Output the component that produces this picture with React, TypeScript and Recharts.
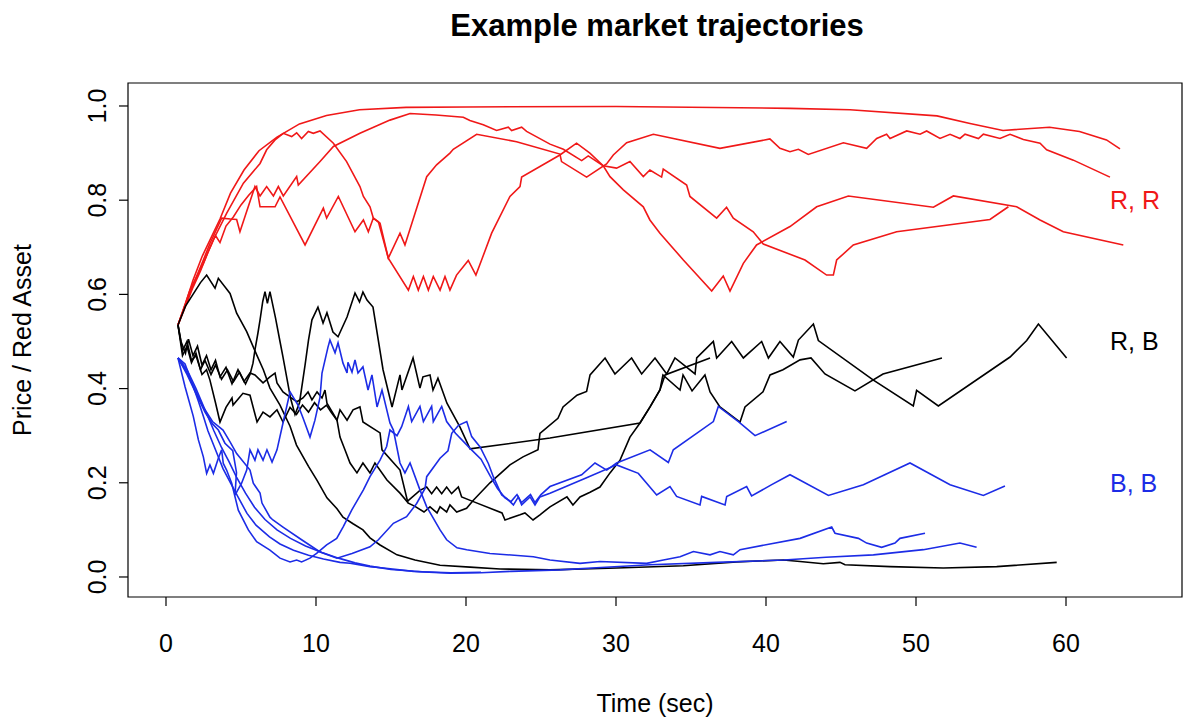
import React from 'react';
import { LineChart, Line, XAxis, YAxis, ReferenceArea, ReferenceDot } from 'recharts';

type Pt = [number, number];

const RED = '#f01818';
const BLUE = '#1c2ce6';
const BLACK = '#000000';
const FONT = '"Liberation Sans", Arial, Helvetica, sans-serif';

// ---- R, R trajectories (time sec, price) ----
const redA: Pt[] = [[0.8,0.535],[1.3,0.58],[1.8,0.63],[2.4,0.68],[3.0,0.72],[3.6,0.76],[4.3,0.815],[5.2,0.864],[6.2,0.905],[7.4,0.934],[8.9,0.962],[10.7,0.98],[12.9,0.992],[16.0,0.997],[20,0.998],[30,0.999],[41.6,0.995],[45.6,0.992],[51.4,0.979],[53.6,0.963],[55.8,0.948],[58.9,0.955],[60.9,0.946],[62.7,0.928],[63.6,0.909]];
const redB: Pt[] = [[0.8,0.535],[1.16,0.567],[1.8,0.62],[2.49,0.673],[2.93,0.708],[3.71,0.762],[4.3,0.76],[4.71,0.759],[4.93,0.733],[5.93,0.829],[6.27,0.809],[6.71,0.829],[7.16,0.809],[7.49,0.829],[7.82,0.809],[8.71,0.85],[8.82,0.832],[10.27,0.882],[11.16,0.914],[12.93,0.942],[14.93,0.97],[16.27,0.984],[18.0,0.981],[19.82,0.976],[20.26,0.969],[21.15,0.96],[22.04,0.948],[22.82,0.955],[23.04,0.948],[23.71,0.955],[24.04,0.946],[25.6,0.919],[26.49,0.908],[27.71,0.884],[28.15,0.894],[29.15,0.873],[29.6,0.85],[30.49,0.822],[31.82,0.786],[32.26,0.758],[32.93,0.73],[34.49,0.673],[36.38,0.607],[37.15,0.639],[37.6,0.607],[38.49,0.666],[39.37,0.705],[41.6,0.744],[43.38,0.786],[45.49,0.809],[51.16,0.785],[52.49,0.809],[56.71,0.786],[58.27,0.758],[59.82,0.733],[63.82,0.705]];
const redC: Pt[] = [[0.8,0.535],[1.6,0.609],[2.49,0.666],[3.16,0.716],[4.04,0.772],[5.16,0.836],[6.27,0.878],[6.71,0.907],[7.27,0.928],[7.82,0.942],[8.38,0.935],[8.71,0.943],[9.04,0.931],[9.49,0.946],[9.82,0.942],[10.27,0.947],[11.16,0.921],[12.04,0.882],[12.93,0.829],[13.16,0.808],[13.6,0.786],[13.82,0.762],[14.16,0.754],[14.82,0.677],[15.6,0.73],[15.93,0.705],[17.38,0.85],[18.04,0.875],[18.93,0.9],[19.15,0.908],[20.71,0.94],[23.37,0.924],[26.26,0.898],[26.37,0.882],[28.04,0.849],[29.37,0.877],[29.82,0.896],[30.71,0.922],[32.49,0.94],[36.93,0.91],[40.26,0.93],[40.93,0.91],[41.6,0.903],[42.16,0.908],[42.82,0.897],[45.16,0.922],[46.71,0.91],[47.38,0.931],[48.04,0.94],[48.27,0.931],[49.38,0.947],[50.27,0.94],[50.71,0.947],[51.6,0.931],[52.27,0.94],[52.93,0.931],[53.27,0.94],[54.16,0.931],[54.49,0.94],[55.6,0.931],[56.27,0.94],[57.16,0.929],[58.27,0.921],[58.71,0.907],[60.49,0.885],[62.93,0.849]];
const redD: Pt[] = [[0.8,0.535],[1.3,0.575],[1.8,0.615],[2.3,0.65],[2.8,0.69],[3.3,0.725],[3.6,0.71],[4.0,0.745],[4.5,0.765],[5.0,0.79],[5.5,0.81],[6.04,0.829],[6.27,0.786],[7.27,0.786],[7.6,0.807],[9.27,0.705],[10.49,0.783],[10.71,0.762],[11.49,0.808],[12.6,0.733],[13.16,0.758],[13.49,0.733],[13.82,0.762],[14.27,0.751],[14.82,0.677],[16.16,0.609],[16.49,0.638],[16.82,0.609],[17.16,0.638],[17.49,0.609],[17.82,0.638],[18.27,0.609],[18.6,0.638],[18.93,0.609],[19.37,0.641],[20.15,0.672],[20.66,0.641],[21.04,0.673],[21.71,0.73],[22.93,0.808],[23.6,0.829],[23.71,0.849],[26.26,0.896],[27.37,0.921],[28.26,0.9],[29.15,0.873],[30.04,0.868],[30.93,0.882],[31.82,0.85],[32.26,0.864],[33.04,0.849],[33.15,0.866],[34.71,0.832],[34.93,0.808],[36.71,0.762],[37.37,0.785],[37.82,0.762],[39.15,0.733],[39.82,0.707],[42.6,0.673],[44.04,0.641],[44.49,0.641],[44.71,0.673],[45.82,0.705],[48.71,0.733],[54.93,0.759],[56.16,0.786]];

// ---- R, B trajectories ----
const blackA: Pt[] = [[0.8,0.535],[1.1,0.48],[1.4,0.5],[1.7,0.46],[2.0,0.47],[2.4,0.43],[2.7,0.44],[2.93,0.418],[3.3,0.37],[3.6,0.329],[4.0,0.36],[4.4,0.38],[4.47,0.365],[5.13,0.39],[5.6,0.386],[6.07,0.329],[6.47,0.35],[6.93,0.34],[7.4,0.355],[7.8,0.329],[8.27,0.36],[8.7,0.345],[9.1,0.365],[9.5,0.35],[9.9,0.37],[10.3,0.355],[10.7,0.365],[11.0,0.35],[11.4,0.333],[11.6,0.355],[12.07,0.333],[12.47,0.355],[12.93,0.361],[13.13,0.329],[14.27,0.306],[14.4,0.27],[15.6,0.227],[16.13,0.157],[16.6,0.15],[17.2,0.138],[17.6,0.149],[18.07,0.136],[18.27,0.149],[18.71,0.138],[18.93,0.153],[19.38,0.138],[20.04,0.146],[20.49,0.163],[21.6,0.2],[22.93,0.238],[23.8,0.255],[24.8,0.27],[24.93,0.305],[26.13,0.337],[26.47,0.361],[27.4,0.386],[28.04,0.394],[28.27,0.429],[29.27,0.465],[29.93,0.431],[31.04,0.465],[31.71,0.431],[32.6,0.465],[33.38,0.431],[33.93,0.465],[35.27,0.431],[35.38,0.465],[36.49,0.5],[36.71,0.465],[37.71,0.5],[38.49,0.465],[39.71,0.5],[40.16,0.465],[40.93,0.5],[41.82,0.467],[42.16,0.503],[43.16,0.537],[43.49,0.502],[47.16,0.418],[49.82,0.363],[50.04,0.396],[51.49,0.363],[56.27,0.467],[57.38,0.502],[58.16,0.537],[60.04,0.465]];
const blackB: Pt[] = [[0.8,0.535],[1.0,0.5],[1.3,0.475],[1.5,0.505],[1.8,0.47],[2.1,0.49],[2.4,0.45],[2.7,0.47],[3.0,0.44],[3.3,0.46],[3.6,0.425],[4.0,0.445],[4.4,0.41],[4.8,0.44],[5.2,0.415],[5.6,0.433],[5.93,0.429],[6.47,0.412],[6.93,0.425],[7.27,0.433],[7.4,0.412],[7.8,0.393],[8.27,0.382],[8.73,0.372],[9.13,0.38],[9.47,0.393],[9.73,0.376],[10.07,0.393],[10.4,0.38],[10.6,0.397],[10.73,0.369],[11.4,0.333],[11.6,0.297],[11.93,0.27],[12.27,0.242],[12.73,0.221],[13.13,0.242],[13.6,0.221],[13.93,0.242],[14.73,0.206],[15.6,0.178],[16.07,0.16],[16.93,0.184],[17.38,0.191],[17.71,0.177],[18.04,0.191],[18.38,0.177],[18.71,0.191],[19.04,0.177],[19.49,0.191],[19.71,0.17],[20.49,0.16],[22.4,0.136],[22.6,0.121],[23.6,0.132],[23.93,0.136],[24.47,0.121],[24.93,0.132],[25.6,0.149],[26.73,0.17],[27.13,0.153],[27.6,0.17],[28.27,0.18],[28.93,0.191],[29.6,0.221],[30.27,0.248],[30.93,0.297],[31.6,0.327],[32.27,0.361],[32.93,0.397],[33.13,0.429],[34.27,0.397],[34.47,0.429],[35.07,0.395],[35.93,0.429],[36.27,0.393],[36.93,0.361],[38.27,0.329],[38.6,0.361],[39.8,0.393],[40.27,0.429],[41.13,0.44],[42.27,0.461],[43.0,0.465],[43.93,0.431],[45.93,0.395],[47.8,0.431],[51.73,0.465]];
const blackC: Pt[] = [[0.8,0.535],[1.3,0.575],[1.8,0.6],[2.3,0.625],[2.71,0.641],[3.27,0.613],[3.49,0.634],[4.27,0.602],[4.71,0.56],[5.38,0.521],[6.04,0.472],[6.49,0.44],[6.93,0.401],[7.6,0.365],[8.27,0.32],[8.7,0.28],[9.5,0.235],[10.07,0.205],[10.73,0.168],[11.4,0.145],[11.8,0.127],[12.47,0.113],[13.13,0.1],[13.6,0.083],[14.27,0.068],[15.4,0.047],[16.6,0.036],[18.27,0.025],[20.27,0.021],[22.27,0.017],[25.6,0.015],[30.04,0.019],[34.49,0.024],[38.04,0.032],[41.16,0.036],[42.27,0.033],[43.82,0.028],[44.93,0.031],[45.27,0.026],[48.27,0.022],[51.82,0.019],[55.38,0.022],[59.38,0.031]];
const blackD: Pt[] = [[0.8,0.535],[1.1,0.47],[1.4,0.49],[1.7,0.455],[2.0,0.475],[2.3,0.44],[2.6,0.46],[3.0,0.43],[3.3,0.45],[3.7,0.42],[4.1,0.44],[4.5,0.415],[4.9,0.435],[5.3,0.41],[5.6,0.43],[5.8,0.454],[5.93,0.482],[6.13,0.518],[6.27,0.546],[6.45,0.585],[6.6,0.606],[6.76,0.581],[6.93,0.606],[7.3,0.55],[7.6,0.5],[7.8,0.467],[8.07,0.42],[8.3,0.38],[8.6,0.345],[8.9,0.37],[9.27,0.45],[9.5,0.503],[9.73,0.546],[10.13,0.573],[10.47,0.539],[10.73,0.561],[11.13,0.52],[11.47,0.51],[12.07,0.552],[12.6,0.603],[12.9,0.584],[13.13,0.605],[13.4,0.588],[13.8,0.573],[14.47,0.44],[15.07,0.361],[15.6,0.429],[15.73,0.397],[16.47,0.465],[16.93,0.401],[17.13,0.425],[17.6,0.429],[17.8,0.397],[18.13,0.422],[18.73,0.369],[19.6,0.318],[20.27,0.272],[25.6,0.295],[31.6,0.327],[32.27,0.361],[32.93,0.397],[33.27,0.429],[36.27,0.465]];

// ---- B, B trajectories ----
const blueA: Pt[] = [[0.8,0.465],[1.27,0.404],[1.82,0.341],[2.16,0.291],[2.49,0.255],[2.71,0.22],[2.93,0.238],[3.16,0.22],[3.49,0.252],[3.71,0.27],[3.82,0.241],[4.04,0.227],[4.38,0.199],[4.82,0.142],[5.49,0.1],[6.04,0.075],[6.93,0.057],[7.6,0.04],[8.27,0.032],[8.71,0.036],[9.04,0.032],[9.6,0.04],[10.04,0.05],[10.71,0.068],[11.38,0.082],[11.82,0.107],[12.38,0.142],[13.16,0.185],[13.6,0.213],[14.27,0.248],[14.71,0.277],[14.93,0.312],[15.4,0.3],[15.71,0.319],[16.16,0.362],[16.38,0.33],[16.93,0.362],[17.16,0.33],[17.71,0.362],[17.82,0.33],[18.38,0.362],[18.71,0.33],[19.3,0.305],[20.27,0.273],[21.0,0.25],[21.6,0.215],[22.1,0.188],[22.6,0.168],[23.0,0.16],[23.4,0.175],[23.7,0.158],[24.3,0.175],[24.6,0.158],[25.0,0.175],[25.6,0.192],[27.71,0.217],[28.6,0.242],[29.38,0.227],[30.04,0.242],[32.27,0.27],[33.49,0.243],[33.82,0.27],[36.49,0.33],[36.82,0.362],[38.16,0.33],[39.27,0.3],[41.38,0.33]];
const blueB: Pt[] = [[0.8,0.465],[1.3,0.44],[1.9,0.4],[2.5,0.36],[3.1,0.33],[3.8,0.312],[4.27,0.287],[4.71,0.262],[5.6,0.227],[5.82,0.199],[6.27,0.178],[6.4,0.157],[6.93,0.127],[7.13,0.121],[7.8,0.106],[9.04,0.079],[10.27,0.053],[11.4,0.04],[12.4,0.05],[13.6,0.064],[14.16,0.079],[15.16,0.114],[16.04,0.128],[16.71,0.156],[17.27,0.188],[17.38,0.213],[18.27,0.252],[18.8,0.268],[19.05,0.305],[19.5,0.322],[20.05,0.33],[20.38,0.298],[20.94,0.276],[21.49,0.241],[21.82,0.213],[22.38,0.174],[22.71,0.167],[23.16,0.153],[23.49,0.17],[23.71,0.153],[24.27,0.17],[24.6,0.153],[24.93,0.17],[25.6,0.178],[28.0,0.21],[30.04,0.238],[31.49,0.22],[32.71,0.174],[33.6,0.192],[34.04,0.171],[35.6,0.153],[35.71,0.171],[37.27,0.153],[37.38,0.171],[38.71,0.192],[39.04,0.172],[40.38,0.196],[41.6,0.217],[44.16,0.173],[46.49,0.196],[49.6,0.242],[52.27,0.196],[54.49,0.173],[55.93,0.193]];
const blueC: Pt[] = [[0.8,0.465],[1.4,0.43],[2.0,0.39],[2.6,0.35],[3.1,0.325],[3.49,0.312],[3.93,0.284],[4.45,0.268],[4.7,0.222],[4.6,0.174],[5.04,0.199],[5.38,0.227],[5.6,0.27],[5.93,0.248],[6.13,0.27],[6.47,0.248],[6.73,0.27],[7.07,0.244],[7.4,0.27],[7.8,0.327],[8.27,0.393],[8.8,0.365],[9.13,0.338],[9.6,0.297],[9.93,0.333],[10.27,0.382],[10.4,0.433],[10.8,0.488],[10.93,0.503],[11.27,0.476],[11.47,0.497],[11.8,0.454],[12.07,0.433],[12.13,0.456],[12.4,0.435],[12.6,0.461],[12.8,0.433],[13.13,0.446],[13.47,0.397],[13.73,0.429],[14.07,0.361],[14.4,0.397],[14.93,0.327],[15.16,0.312],[15.6,0.242],[15.93,0.221],[16.27,0.242],[16.93,0.185],[17.38,0.149],[18.27,0.1],[18.71,0.079],[19.4,0.062],[20.05,0.058],[21.6,0.05],[24.49,0.043],[25.6,0.036],[27.6,0.029],[28.93,0.033],[32.04,0.029],[33.16,0.036],[34.27,0.043],[35.16,0.054],[36.27,0.047],[36.93,0.054],[37.82,0.047],[38.27,0.058],[42.27,0.082],[44.38,0.106],[44.6,0.093],[46.16,0.082],[46.71,0.072],[47.71,0.063],[48.6,0.072],[48.93,0.082],[50.6,0.093]];
const blueD: Pt[] = [[0.8,0.465],[1.27,0.452],[1.49,0.433],[1.82,0.404],[2.16,0.373],[2.49,0.341],[2.8,0.31],[3.3,0.27],[3.8,0.23],[4.3,0.2],[4.8,0.17],[5.4,0.135],[6.0,0.11],[6.9,0.085],[7.6,0.07],[8.5,0.057],[9.5,0.046],[10.5,0.038],[11.6,0.031],[12.27,0.029],[13.6,0.022],[14.49,0.019],[16.5,0.012],[18.93,0.008],[21,0.009],[23,0.012],[26.27,0.015],[29,0.02],[32.27,0.026],[36.7,0.031],[41.2,0.036],[44,0.042],[47.16,0.047],[50.49,0.058],[52.93,0.072],[54.04,0.063]];
const blueE: Pt[] = [[0.8,0.465],[1.4,0.44],[2.0,0.4],[2.6,0.355],[3.2,0.31],[3.7,0.275],[4.2,0.245],[4.7,0.212],[5.3,0.178],[5.9,0.148],[6.6,0.122],[7.4,0.1],[8.3,0.082],[9.3,0.066],[10.4,0.052],[11.5,0.04],[12.6,0.03],[13.6,0.023],[15.0,0.016],[17.0,0.011],[19.0,0.009],[21.0,0.01]];

const xTicks = [0, 10, 20, 30, 40, 50, 60];
const yTicks = [0, 0.2, 0.4, 0.6, 0.8, 1.0];
const groupNames = ['R, R', 'R, B', 'B, B'];
const groupLevels = [0.8, 0.5, 0.2];
const groupColors = [RED, BLACK, BLUE];

const X_DOMAIN: [number, number] = [-2.533, 67.733];
const Y_DOMAIN: [number, number] = [-0.0425, 1.0488];

const series = [
  { id: 'rA', color: RED, pts: redA },
  { id: 'rB', color: RED, pts: redB },
  { id: 'rC', color: RED, pts: redC },
  { id: 'rD', color: RED, pts: redD },
  { id: 'kA', color: BLACK, pts: blackA },
  { id: 'kB', color: BLACK, pts: blackB },
  { id: 'kC', color: BLACK, pts: blackC },
  { id: 'kD', color: BLACK, pts: blackD },
  { id: 'bA', color: BLUE, pts: blueA },
  { id: 'bB', color: BLUE, pts: blueB },
  { id: 'bC', color: BLUE, pts: blueC },
  { id: 'bD', color: BLUE, pts: blueD },
  { id: 'bE', color: BLUE, pts: blueE },
];

const toRows = (a: Pt[]) => a.map(([t, p]) => ({ t, p }));

const XTick = (props: any) => {
  const { x, payload } = props;
  return (
    <text x={x} y={652} textAnchor="middle" fontSize={25} fontFamily={FONT} fill="#000">
      {String(payload.value)}
    </text>
  );
};

const YTick = (props: any) => {
  const { y, payload } = props;
  const bx = 106;
  return (
    <text x={bx} y={y} transform={`rotate(-90 ${bx} ${y})`} textAnchor="middle" fontSize={25} fontFamily={FONT} fill="#000">
      {Number(payload.value).toFixed(1)}
    </text>
  );
};

export default function App() {
  return (
    <div style={{ position: 'absolute', left: 0, top: 0, width: 1184, height: 720, background: '#fff' }}>
      <LineChart width={1184} height={720} margin={{ top: 83, right: 2, bottom: 0, left: 0 }}>
        <XAxis
          dataKey="t"
          type="number"
          domain={X_DOMAIN}
          allowDataOverflow
          ticks={xTicks}
          interval={0}
          height={123}
          tickSize={9}
          axisLine={false}
          tickLine={{ stroke: '#000', strokeWidth: 1.2 }}
          tick={XTick}
        />
        <YAxis
          dataKey="p"
          type="number"
          domain={Y_DOMAIN}
          allowDataOverflow
          ticks={yTicks}
          interval={0}
          width={128}
          tickSize={9}
          axisLine={false}
          tickLine={{ stroke: '#000', strokeWidth: 1.2 }}
          tick={YTick}
        />
        <ReferenceArea
          x1={X_DOMAIN[0]}
          x2={X_DOMAIN[1]}
          y1={Y_DOMAIN[0]}
          y2={Y_DOMAIN[1]}
          fill="none"
          fillOpacity={0}
          stroke="#000"
          strokeWidth={1.2}
        />
        {series.map((s) => (
          <Line
            key={s.id}
            data={toRows(s.pts)}
            dataKey="p"
            type="linear"
            stroke={s.color}
            strokeWidth={1.6}
            dot={false}
            activeDot={false}
            isAnimationActive={false}
          />
        ))}
        {groupNames.map((name, i) => (
          <ReferenceDot
            key={name}
            x={62.6}
            y={groupLevels[i]}
            r={0}
            fill="none"
            stroke="none"
            label={{ value: name, position: 'right', offset: 5, fill: groupColors[i], fontSize: 25, fontFamily: FONT }}
          />
        ))}
      </LineChart>
      <svg width={1184} height={720} style={{ position: 'absolute', left: 0, top: 0, pointerEvents: 'none' }}>
        <text x={657} y={36} textAnchor="middle" fontSize={31} fontWeight="bold" fontFamily={FONT} fill="#000">
          Example market trajectories
        </text>
        <text x={655} y={712} textAnchor="middle" fontSize={25} fontFamily={FONT} fill="#000">
          Time (sec)
        </text>
        <text x={31} y={340} transform="rotate(-90 31 340)" textAnchor="middle" fontSize={25} fontFamily={FONT} fill="#000">
          Price / Red Asset
        </text>
      </svg>
    </div>
  );
}
